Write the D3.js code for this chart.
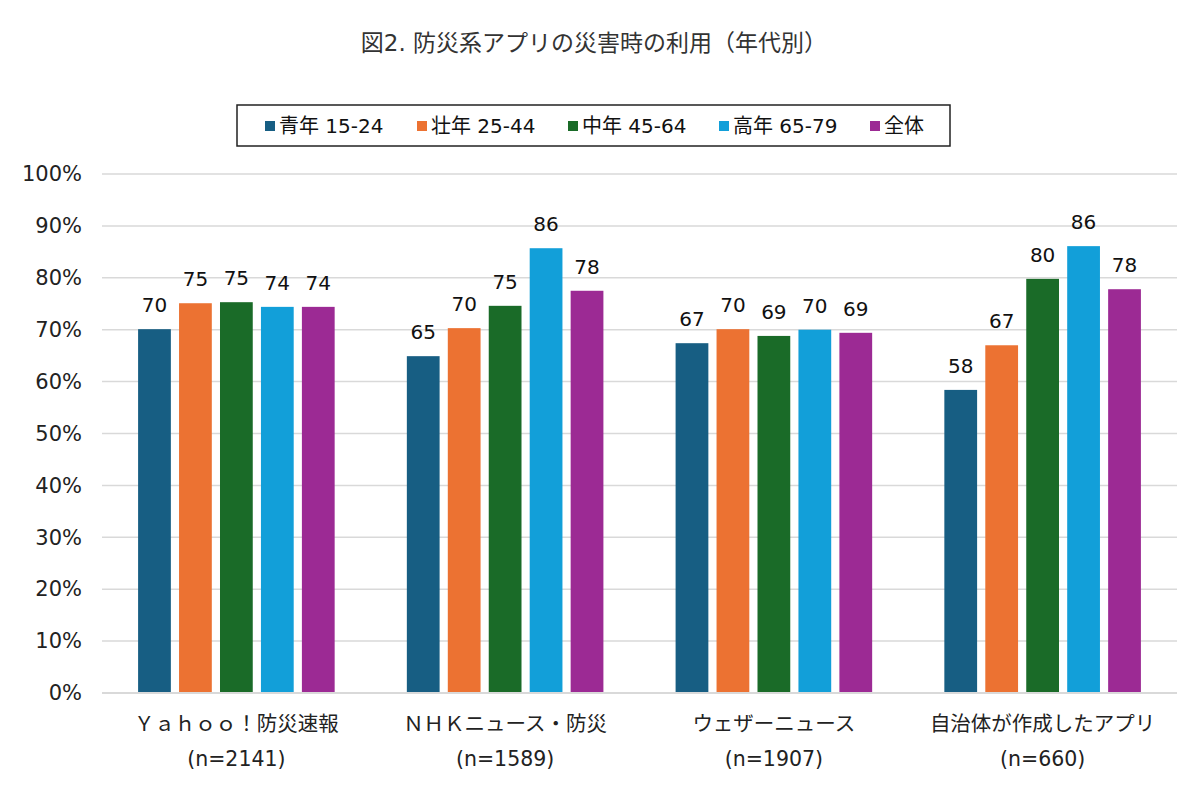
<!DOCTYPE html>
<html><head><meta charset="utf-8">
<script src="https://cdn.jsdelivr.net/npm/d3@7"></script>
<style>body{margin:0;background:#fff;}svg{display:block;font-family:"DejaVu Sans","Noto Sans CJK JP",sans-serif;}</style>
</head><body><svg id="c" width="1200" height="803"></svg>
<script>
const categories = ["Ｙａｈｏｏ！防災速報","ＮＨＫニュース・防災","ウェザーニュース","自治体が作成したアプリ"];
const sampleSizes = ["(n=2141)","(n=1589)","(n=1907)","(n=660)"];
const seriesNames = ["青年 15-24","壮年 25-44","中年 45-64","高年 65-79","全体"];
const seriesColors = ["#175e83","#ec7232","#1a6b28","#129fd9","#9c2a94"];
const youth   = [70.1, 64.9, 67.4, 58.4];
const prime   = [75.1, 70.3, 70.1, 67.0];
const middle  = [75.3, 74.6, 68.8, 79.8];
const senior  = [74.4, 85.7, 70.0, 86.1];
const overall = [74.4, 77.5, 69.4, 77.8];
const dataLabels = [[70,65,67,58],[75,70,70,67],[75,75,69,80],[74,86,70,86],[74,78,69,78]];
const yTicks = [0,10,20,30,40,50,60,70,80,90,100];
const series = [youth, prime, middle, senior, overall];

const svg = d3.select("#c");
const m = {l:102, r:1177, t:174, b:693};
const x0 = d3.scaleBand().domain(categories).range([m.l, m.r]).paddingInner(0).paddingOuter(0);
const x1 = d3.scaleBand().domain(d3.range(5)).range([32, x0.bandwidth()-32]).paddingInner(0.2).paddingOuter(0.1);
const y = d3.scaleLinear().domain([0,100]).range([m.b, m.t]);

svg.append("text").attr("x",594).attr("y",51).attr("text-anchor","middle")
  .attr("font-size",23).attr("fill","#333").text("図2. 防災系アプリの災害時の利用（年代別）");

// grid
svg.append("g").selectAll("line").data(yTicks.slice(1)).join("line")
  .attr("x1",m.l).attr("x2",m.r).attr("y1",d=>y(d)).attr("y2",d=>y(d))
  .attr("stroke","#d9d9d9").attr("stroke-width",1.5);

const yAxis = d3.axisLeft(y).tickValues(yTicks).tickFormat(d=>d+"%").tickSize(0).tickPadding(20);
const ga = svg.append("g").attr("transform",`translate(${m.l},0)`).call(yAxis);
ga.select(".domain").remove();
ga.selectAll("text").attr("font-size",21).attr("fill","#222").attr("font-family","'DejaVu Sans',sans-serif");

// bars
const groups = svg.append("g").selectAll("g").data(categories).join("g")
  .attr("transform",d=>`translate(${x0(d)},0)`);
groups.each(function(cat, ci){
  const g = d3.select(this);
  series.forEach((s, si)=>{
    g.append("rect").attr("x",x1(si)).attr("width",x1.bandwidth())
      .attr("y",y(s[ci])).attr("height",y(0)-y(s[ci])).attr("fill",seriesColors[si]);
    g.append("text").attr("x",x1(si)+x1.bandwidth()/2).attr("y",y(s[ci])-17)
      .attr("text-anchor","middle").attr("font-size",20).attr("fill","#111")
      .attr("font-family","'DejaVu Sans',sans-serif").text(dataLabels[si][ci]);
  });
});

// x axis line
svg.append("line").attr("x1",m.l).attr("x2",m.r).attr("y1",y(0)).attr("y2",y(0))
  .attr("stroke","#d9d9d9").attr("stroke-width",2);

// x labels
const xl = svg.append("g").selectAll("g").data(categories).join("g");
xl.append("text").attr("x",d=>x0(d)+x0.bandwidth()/2).attr("y",731).attr("text-anchor","middle")
  .attr("font-size",20.5).attr("fill","#222").text(d=>d);
xl.append("text").attr("x",(d)=>x0(d)+x0.bandwidth()/2).attr("y",766).attr("text-anchor","middle")
  .attr("font-size",20.5).attr("fill","#222").text((d,i)=>sampleSizes[i]);

// legend
const lg = svg.append("g");
lg.append("rect").attr("x",237).attr("y",105).attr("width",713).attr("height",41)
  .attr("fill","#fff").attr("stroke","#222").attr("stroke-width",1.5);
const legX = [265, 417, 568, 719, 870];
seriesNames.forEach((n,i)=>{
  lg.append("rect").attr("x",legX[i]).attr("y",121).attr("width",10).attr("height",10).attr("fill",seriesColors[i]);
  lg.append("text").attr("x",legX[i]+14).attr("y",133).attr("font-size",20).attr("fill","#111").text(n);
});
</script></body></html>
